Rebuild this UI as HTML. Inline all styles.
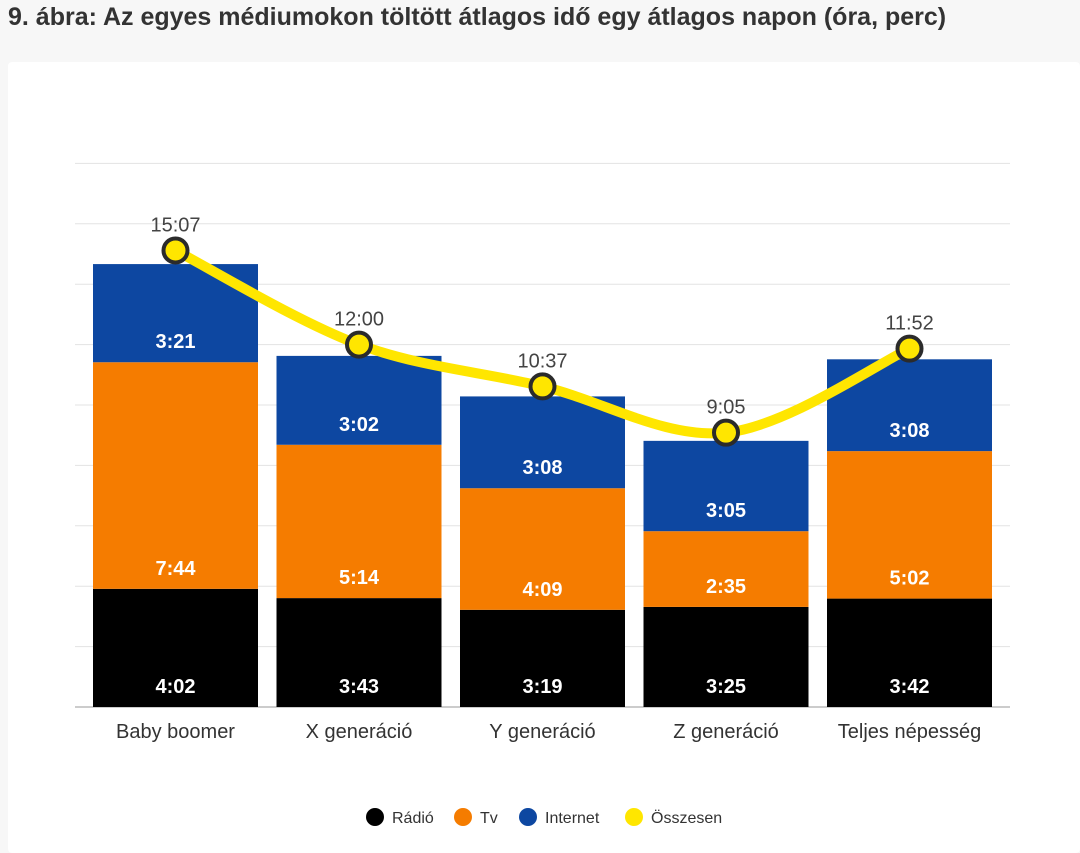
<!DOCTYPE html>
<html><head><meta charset="utf-8"><style>
body{margin:0;width:1080px;height:853px;background:#f7f7f7;font-family:"Liberation Sans",sans-serif;overflow:hidden;position:relative}
#title{position:absolute;left:8px;top:3px;font-size:25px;font-weight:bold;color:#333;white-space:nowrap}
#panel{position:absolute;left:8px;top:62px;width:1072px;height:791px;background:#fff;border-radius:4px}
svg{position:absolute;left:0;top:0}
</style></head><body>
<div id="title">9. ábra: Az egyes médiumokon töltött átlagos idő egy átlagos napon (óra, perc)</div>
<div id="panel"></div>
<svg id="chart" width="1080" height="853"></svg>
<script>
const categories=["Baby boomer","X generáció","Y generáció","Z generáció","Teljes népesség"];
const radio=["4:02","3:43","3:19","3:25","3:42"];
const tv=["7:44","5:14","4:09","2:35","5:02"];
const internet=["3:21","3:02","3:08","3:05","3:08"];
const total=["15:07","12:00","10:37","9:05","11:52"];
const gridTicks=[0,2,4,6,8,10,12,14,16,18];

const NS="http://www.w3.org/2000/svg";
const svg=document.getElementById('chart');
function h(s){const p=s.split(':');return +p[0]+(+p[1])/60;}
const base=707;
function yBar(v){return base-v*29.3;}
function yLine(v){return base-v*30.2;}
function xC(i){return 175.5+i*183.5;}
const bw=165;
function mk(t,a,parent){const e=document.createElementNS(NS,t);for(const k in a)e.setAttribute(k,a[k]);(parent||svg).appendChild(e);return e;}

gridTicks.forEach(t=>{
  const l=mk('line',{x1:75,x2:1010,y1:yLine(t),y2:yLine(t),stroke:t===0?'#bbb':'#e3e3e3','stroke-width':t===0?1.5:1});
  
  
});

const series=[[radio,'#000000','radio'],[tv,'#f57c00','tv'],[internet,'#0d47a1','internet']];
categories.forEach((c,i)=>{
  let acc=0;
  series.forEach(([arr,col,nm])=>{
    const v=h(arr[i]);
    const y0=yBar(acc),y1=yBar(acc+v);
    const r=mk('rect',{x:xC(i)-bw/2,y:y1,width:bw,height:y0-y1,fill:col});
    
    
    const t=mk('text',{x:xC(i),y:y0-14,'text-anchor':'middle','font-size':20,'font-weight':'bold',fill:'#fff'});
    t.textContent=arr[i];
    
    
    acc+=v;
  });
  const ct=mk('text',{x:xC(i),y:738,'text-anchor':'middle','font-size':20,fill:'#333'});
  ct.textContent=c;
  
  
});

// smooth line (monotone-ish catmull-rom)
const pts=total.map((t,i)=>[xC(i),yLine(h(t))]);
let d='M'+pts[0][0]+','+pts[0][1];
for(let i=0;i<pts.length-1;i++){
  const p0=pts[i-1]||pts[i],p1=pts[i],p2=pts[i+1],p3=pts[i+2]||p2;
  const c1=[p1[0]+(p2[0]-p0[0])/6,p1[1]+(p2[1]-p0[1])/6];
  const c2=[p2[0]-(p3[0]-p1[0])/6,p2[1]-(p3[1]-p1[1])/6];
  d+=' C'+c1[0]+','+c1[1]+' '+c2[0]+','+c2[1]+' '+p2[0]+','+p2[1];
}
const ln=mk('path',{d:d,fill:'none',stroke:'#ffe600','stroke-width':10,'stroke-linecap':'round'});


pts.forEach((p,i)=>{
  const c=mk('circle',{cx:p[0],cy:p[1],r:12,fill:'#ffe600',stroke:'#2b2b2b','stroke-width':4});
  
  
  const t=mk('text',{x:p[0],y:p[1]-19,'text-anchor':'middle','font-size':20,fill:'#444'});
  t.textContent=total[i];
  
  
});

const legend=[['Rádió','#000',375],['Tv','#f57c00',463],['Internet','#0d47a1',528],['Összesen','#ffe600',634]];
legend.forEach(([n,col,x])=>{
  const g=mk('g',{});
  
  
  mk('circle',{cx:x,cy:817,r:9,fill:col},g);
  const t=mk('text',{x:x+17,y:823,'font-size':16,fill:'#333'},g);
  t.textContent=n;
});
</script>
</body></html>
